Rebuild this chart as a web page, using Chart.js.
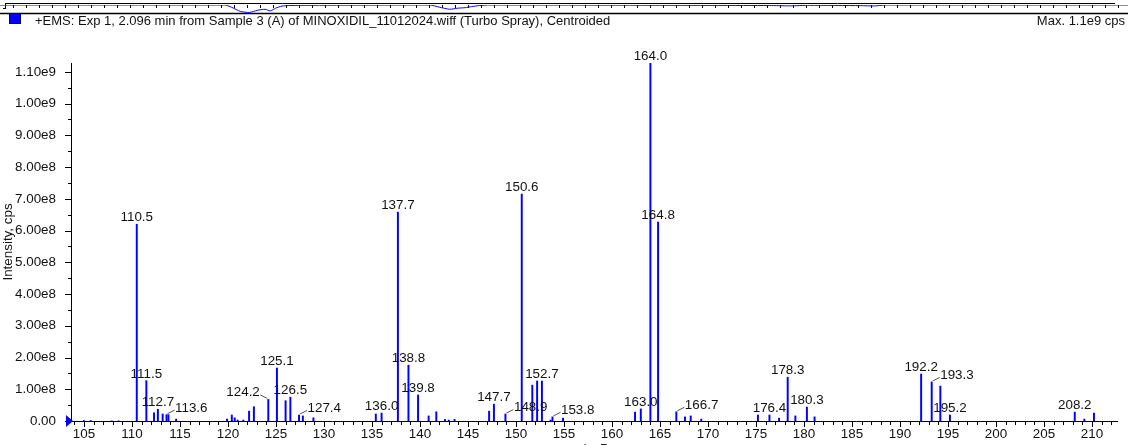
<!DOCTYPE html>
<html>
<head>
<meta charset="utf-8">
<script src="https://cdn.jsdelivr.net/npm/chart.js@4.4.0/dist/chart.umd.min.js"></script>
<style>
  html, body { margin: 0; padding: 0; background: #fff; }
  body { width: 1128px; height: 445px; overflow: hidden; position: relative; font-family: "Liberation Sans", Arial, sans-serif; }
  #main { position: absolute; left: 0; top: 0; }
  #tic { position: absolute; left: 0; top: 0; }
  .sq { position: absolute; left: 9px; top: 13px; width: 10px; height: 9px; background: #0000ff; border: 1px solid #000080; }
  .hdr { position: absolute; top: 13px; font-size: 13px; line-height: 16px; color: #111; white-space: nowrap; }
</style>
</head>
<body>
<canvas id="main" width="1128" height="470"></canvas>
<canvas id="tic" width="1128" height="15"></canvas>
<div class="sq"></div>
<div class="hdr" style="left:35px">+EMS: Exp 1, 2.096 min from Sample 3 (A) of MINOXIDIL_11012024.wiff (Turbo Spray), Centroided</div>
<div class="hdr" style="right:3px">Max. 1.1e9 cps</div>
<script>
// ---------------- data ----------------
var mz = [105.0, 105.7, 107.9, 108.6, 110.5, 111.5, 112.3, 112.7, 113.2, 113.6, 113.8, 114.6,
  119.9, 120.4, 120.7, 121.0, 121.6, 122.2, 122.7, 124.2, 125.1, 126.0, 126.5, 127.4, 127.8, 128.9,
  135.4, 136.0, 137.7, 138.8, 139.8, 140.9, 141.7, 142.6, 143.0, 143.6,
  147.2, 147.7, 148.9, 150.6, 151.7, 152.2, 152.7, 153.6, 153.8, 154.9,
  162.4, 163.0, 164.0, 164.8, 166.7, 167.6, 168.2, 169.3,
  175.2, 176.4, 177.4, 178.3, 179.1, 180.3, 181.1,
  192.2, 193.3, 194.2, 195.2, 208.2, 209.2, 210.2];

var intensity = [1.5e6, 1.5e6, 5e5, 5e5, 6.2e8, 1.27e8, 2.6e7, 3.7e7, 2.2e7, 2.0e7, 2.0e7, 6e6,
  6e6, 1.9e7, 1.0e7, 3e6, 3e6, 3.1e7, 4.5e7, 6.8e7, 1.67e8, 6.4e7, 7.5e7, 1.9e7, 1.6e7, 1.0e7,
  2.2e7, 2.5e7, 6.58e8, 1.76e8, 8.2e7, 1.6e7, 2.9e7, 5e6, 3e6, 5e6,
  3.1e7, 5.3e7, 2.2e7, 7.15e8, 1.13e8, 1.26e8, 1.26e8, 3e6, 1.3e7, 9e6,
  2.8e7, 3.8e7, 1.127e9, 6.27e8, 2.9e7, 1.3e7, 1.6e7, 6e6,
  1.9e7, 1.9e7, 9e6, 1.38e8, 1.6e7, 4.4e7, 1.3e7,
  1.48e8, 1.23e8, 1.1e8, 1.9e7, 2.8e7, 6e6, 2.5e7];

// peaks carrying an m/z label
var labelled = [110.5, 111.5, 112.7, 113.6, 124.2, 125.1, 126.5, 127.4, 136.0, 137.7, 138.8, 139.8,
  147.7, 148.9, 150.6, 152.7, 153.8, 163.0, 164.0, 164.8, 166.7, 176.4, 178.3, 180.3,
  192.2, 193.3, 195.2, 208.2];
// labels moved aside with a leader line
var leaderRight = [113.6, 127.4, 148.9, 153.8, 166.7, 193.3];
var leaderLeft = [124.2];

// tick values
var xTicks = [105, 110, 115, 120, 125, 130, 135, 140, 145, 150, 155, 160, 165, 170, 175, 180, 185, 190, 195, 200, 205, 210];
var yTicks = [0, 1e8, 2e8, 3e8, 4e8, 5e8, 6e8, 7e8, 8e8, 9e8, 1e9, 1.1e9];

// TIC strip at the top (time in min, relative depth)
var ticTime = [0, 1.73, 1.78, 1.85, 1.92, 1.98, 2.04, 2.08, 2.12, 2.17, 2.23, 2.31, 3.31, 3.38, 3.46,
  3.52, 3.58, 3.63, 3.69, 3.77, 5.92, 6.08, 6.23, 6.62, 6.73, 6.81, 8.68];
var ticValue = [0, 0, 2, 6, 7, 5, 4, 5.5, 3, 1, 0.5, 0.3, 0, 2, 4, 3, 2.5, 1.5, 0.5, 0, 0.5, 0.8, 0.3, 0.6, 0.9, 0, 0];

var FONT = '"Liberation Sans", Arial, sans-serif';
var FS = 13.4;
var TXT = '#111';

// ---------------- main spectrum ----------------
var extras = {
  id: 'extras',
  afterDraw: function (chart) {
    var c = chart.ctx, xs = chart.scales.x, ys = chart.scales.y;
    var ay = ys.right;
    c.save();
    c.strokeStyle = '#000';
    c.lineWidth = 1;
    // x minor/major ticks
    for (var v = 104; v <= 212; v++) {
      var px = Math.round(xs.getPixelForValue(v)) + 0.5;
      c.beginPath();
      c.moveTo(px, xs.top);
      c.lineTo(px, xs.top + (v % 5 === 0 ? 6 : 4));
      c.stroke();
    }
    // y minor/major ticks
    for (var k = 0; k <= 22; k++) {
      var py = Math.round(ys.getPixelForValue(k * 5e7)) + 0.5;
      c.beginPath();
      c.moveTo(ay - (k % 2 === 0 ? 6 : 3), py);
      c.lineTo(ay, py);
      c.stroke();
    }
    // blue marker at origin
    var oy = ys.getPixelForValue(0);
    c.fillStyle = '#0000ff';
    c.beginPath();
    c.moveTo(ay - 5, oy - 6);
    c.lineTo(ay + 2, oy);
    c.lineTo(ay - 5, oy + 6);
    c.closePath();
    c.fill();
    // peak labels
    c.font = FS + 'px ' + FONT;
    c.fillStyle = TXT;
    c.textBaseline = 'alphabetic';
    labelled.forEach(function (m) {
      var i = mz.indexOf(m);
      var px = xs.getPixelForValue(m);
      var top = ys.getPixelForValue(intensity[i]);
      var txt = m.toFixed(1);
      if (leaderRight.indexOf(m) >= 0 || leaderLeft.indexOf(m) >= 0) {
        var dir = leaderRight.indexOf(m) >= 0 ? 1 : -1;
        c.strokeStyle = '#555';
        c.beginPath();
        c.moveTo(px + dir * 1, top - 1);
        c.lineTo(px + dir * 8, top - 4.5);
        c.stroke();
        c.textAlign = dir > 0 ? 'left' : 'right';
        c.fillText(txt, px + dir * 8.5, top - 3);
      } else {
        c.textAlign = 'center';
        c.fillText(txt, px, top - 3);
      }
    });
    c.restore();
  }
};

var ctx = document.getElementById('main').getContext('2d');
var grafico = new Chart(ctx, {
  type: 'bar',
  data: {
    datasets: [{
      data: mz.map(function (m, i) { return { x: m, y: intensity[i] }; }),
      backgroundColor: '#0000ff',
      barThickness: 1.3
    }]
  },
  options: {
    responsive: false,
    animation: false,
    layout: { padding: { top: 63, right: 11, left: 0, bottom: 0 } },
    plugins: { legend: { display: false }, tooltip: { enabled: false } },
    scales: {
      x: {
        type: 'linear',
        offset: false,
        min: 103.65,
        max: 212.6,
        grid: { display: false },
        border: { color: '#000', width: 1 },
        ticks: {
          autoSkip: false, maxRotation: 0,
          padding: -3, color: TXT, font: { family: FONT, size: FS }
        },
        afterBuildTicks: function (s) { s.ticks = xTicks.map(function (v) { return { value: v }; }); },
        title: { display: true, text: 'm/z, Da', color: TXT, font: { family: FONT, size: FS }, padding: { top: 0, bottom: 13 } },
        afterFit: function (s) { s.height = 49; }
      },
      y: {
        min: 0,
        max: 1.128e9,
        grid: { display: false },
        border: { color: '#000', width: 1 },
        ticks: {
          padding: 7, color: TXT, font: { family: FONT, size: FS },
          callback: function (v) { return v === 0 ? '0.00' : v.toExponential(2).replace('e+', 'e'); }
        },
        afterBuildTicks: function (s) { s.ticks = yTicks.map(function (v) { return { value: v }; }); },
        title: { display: true, text: 'Intensity, cps', color: TXT, font: { family: FONT, size: FS }, padding: { top: 0, bottom: 0 } },
        afterFit: function (s) { s.width = 71; }
      }
    }
  },
  plugins: [extras]
});

// ---------------- TIC strip ----------------
var frame = {
  id: 'frame',
  beforeDatasetsDraw: function (chart) {
    var c = chart.ctx, xs = chart.scales.x;
    c.save();
    c.strokeStyle = '#000';
    c.lineWidth = 1;
    c.beginPath(); c.moveTo(5, 3.5); c.lineTo(1115, 3.5); c.stroke();
    c.lineWidth = 1.5;
    c.beginPath(); c.moveTo(0, 13.5); c.lineTo(1128, 13.5); c.stroke();
    c.lineWidth = 1;
    c.beginPath(); c.moveTo(5.5, 4); c.lineTo(5.5, 9); c.moveTo(3, 8.5); c.lineTo(6, 8.5); c.stroke();
    for (var t = 1; t <= 86; t++) {
      var px = Math.round(xs.getPixelForValue(t / 10)) + 0.5;
      c.beginPath(); c.moveTo(px, 5); c.lineTo(px, 8); c.stroke();
    }
    c.restore();
  }
};

var ctx2 = document.getElementById('tic').getContext('2d');
var grafico_tic = new Chart(ctx2, {
  type: 'line',
  data: {
    datasets: [{
      data: ticTime.map(function (t, i) { return { x: t, y: ticValue[i] }; }),
      borderColor: '#0000ff',
      borderWidth: 1,
      pointRadius: 0,
      tension: 0.2
    }]
  },
  options: {
    responsive: false,
    animation: false,
    layout: { padding: { top: 5, bottom: 2, left: 0, right: 0 } },
    plugins: { legend: { display: false }, tooltip: { enabled: false } },
    scales: {
      x: { type: 'linear', min: 0, max: 8.68, display: false },
      y: { min: 0, max: 7.5, reverse: true, display: false }
    }
  },
  plugins: [frame]
});
</script>
</body>
</html>
